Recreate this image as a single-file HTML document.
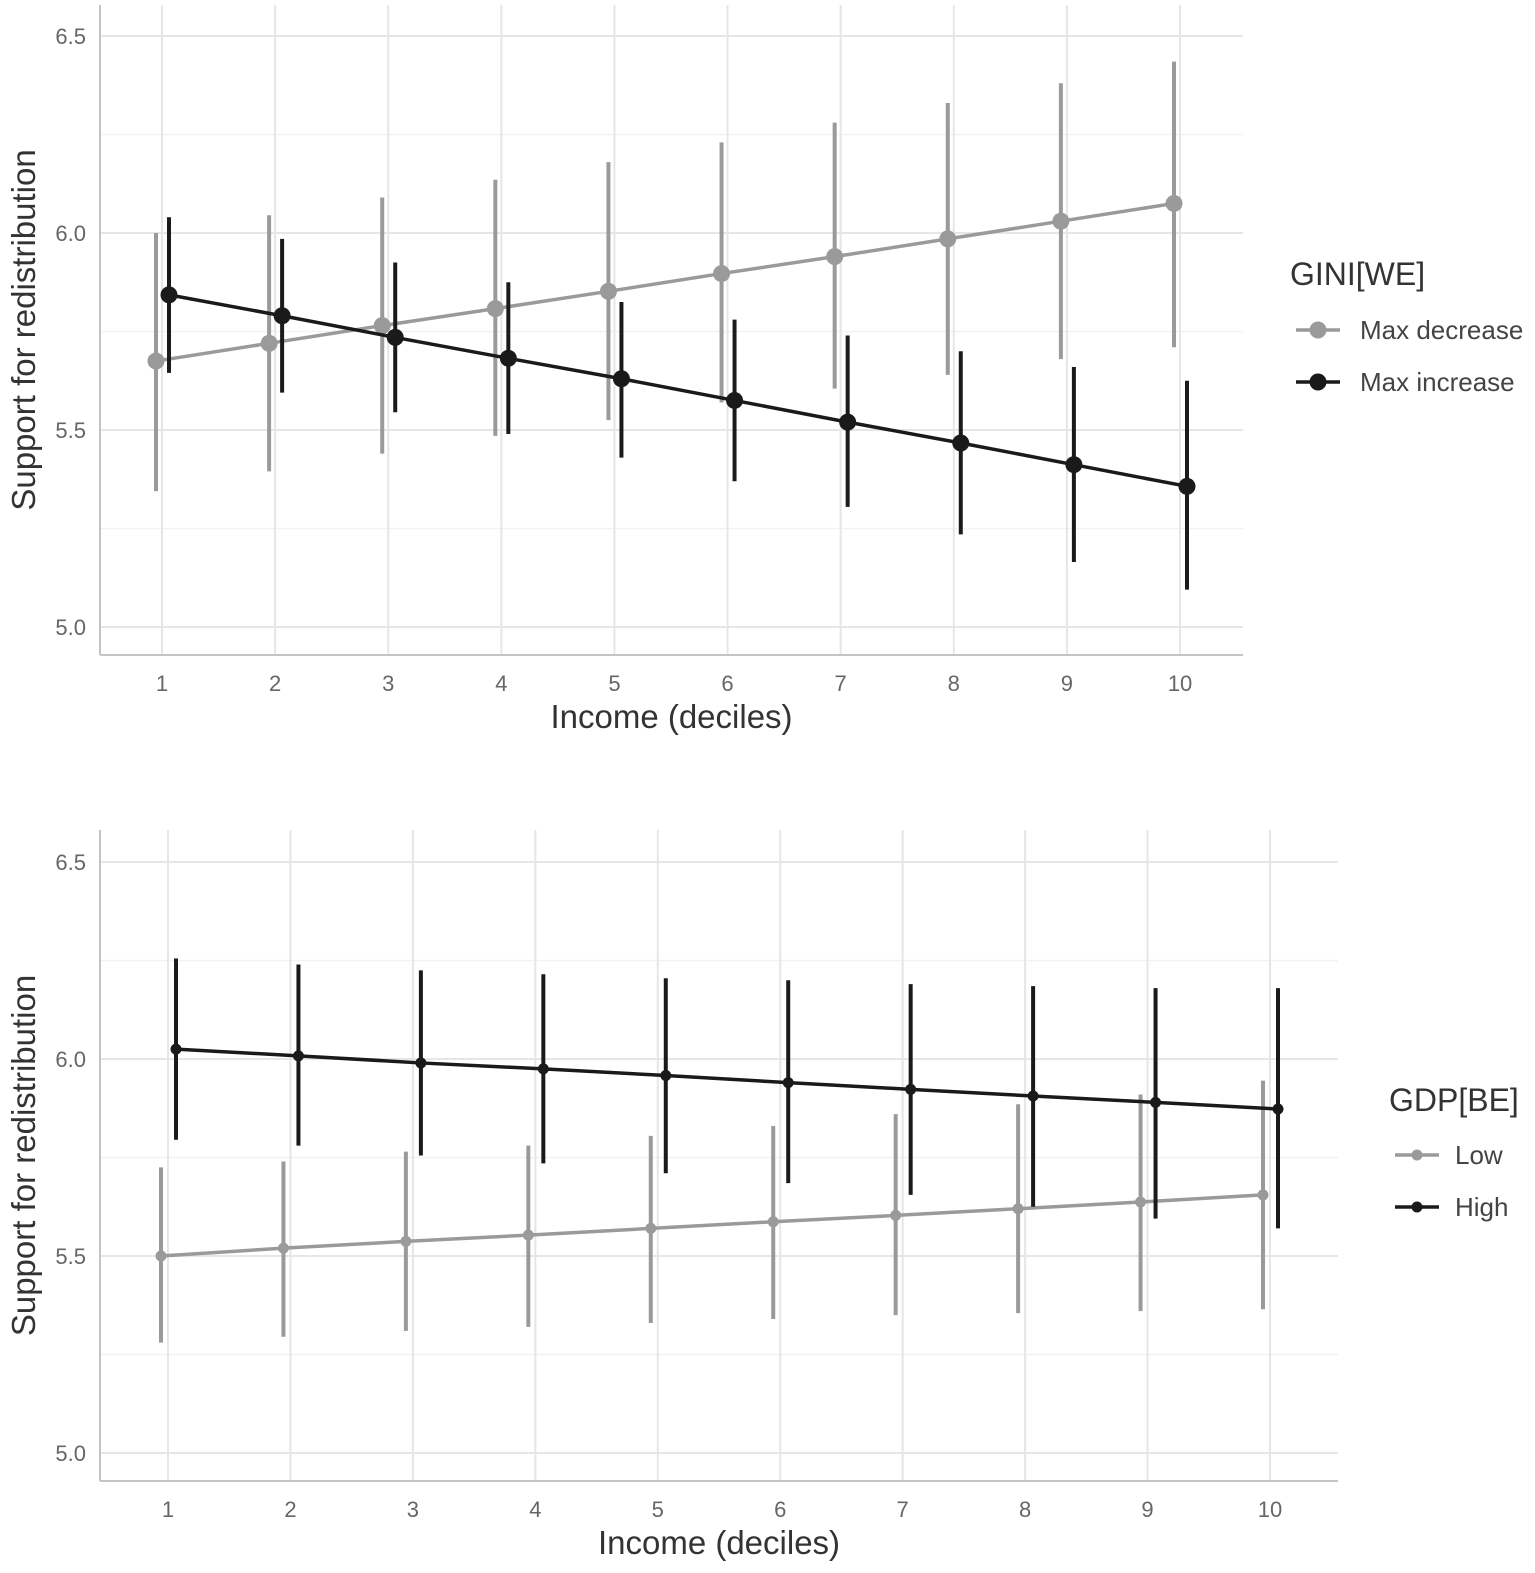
<!DOCTYPE html>
<html><head><meta charset="utf-8"><style>
body{margin:0;background:#fff}
svg{display:block;font-family:"Liberation Sans",sans-serif}
</style></head><body>
<svg id="c" width="1535" height="1573"></svg>
<script>
const deciles=[1,2,3,4,5,6,7,8,9,10];
const yTicks=[5.0,5.5,6.0,6.5];
const yTickLabels=["5.0","5.5","6.0","6.5"];
const topDecMean=[5.675,5.72,5.765,5.808,5.852,5.897,5.94,5.985,6.03,6.075];
const topDecLo=[5.345,5.395,5.44,5.485,5.525,5.57,5.605,5.64,5.68,5.71];
const topDecHi=[6.0,6.045,6.09,6.135,6.18,6.23,6.28,6.33,6.38,6.435];
const topIncMean=[5.843,5.79,5.735,5.682,5.63,5.575,5.52,5.467,5.412,5.357];
const topIncLo=[5.645,5.595,5.545,5.49,5.43,5.37,5.305,5.235,5.165,5.095];
const topIncHi=[6.04,5.985,5.925,5.875,5.825,5.78,5.74,5.7,5.66,5.625];
const botHighMean=[6.025,6.008,5.99,5.975,5.958,5.94,5.923,5.906,5.89,5.873];
const botHighLo=[5.795,5.78,5.755,5.735,5.71,5.685,5.655,5.625,5.595,5.57];
const botHighHi=[6.255,6.24,6.225,6.215,6.205,6.2,6.19,6.185,6.18,6.18];
const botLowMean=[5.5,5.52,5.537,5.553,5.57,5.587,5.603,5.62,5.637,5.655];
const botLowLo=[5.28,5.295,5.31,5.32,5.33,5.34,5.35,5.355,5.36,5.365];
const botLowHi=[5.725,5.74,5.765,5.78,5.805,5.83,5.86,5.885,5.91,5.945];

const svg=document.getElementById('c');
const NS='http://www.w3.org/2000/svg';
function mk(tag,attrs,parent){const e=document.createElementNS(NS,tag);for(const k in attrs)e.setAttribute(k,attrs[k]);(parent||svg).appendChild(e);return e;}
const GRAY='#9a9a9a',BLACK='#1a1a1a';

function panel(o){
  const g=mk('g',{});
  
  
  const xs=v=>o.x1+(v-1)*(o.x10-o.x1)/9;
  const ys=v=>o.y6-(v-6)*(o.y5-o.y6)/0.5;
  [5.25,5.75,6.25].forEach(v=>mk('line',{x1:o.left,x2:o.right,y1:ys(v),y2:ys(v),stroke:'#f2f2f2','stroke-width':1.5},g));
  yTicks.forEach(v=>mk('line',{x1:o.left,x2:o.right,y1:ys(v),y2:ys(v),stroke:'#e6e6e6','stroke-width':2},g));
  deciles.forEach(d=>mk('line',{x1:xs(d),x2:xs(d),y1:o.top,y2:o.bottom,stroke:'#e6e6e6','stroke-width':2},g));
  mk('line',{x1:o.left,x2:o.left,y1:o.top,y2:o.bottom,stroke:'#c4c4c4','stroke-width':2},g);
  mk('line',{x1:o.left,x2:o.right,y1:o.bottom,y2:o.bottom,stroke:'#c4c4c4','stroke-width':2},g);
  yTicks.forEach((v,i)=>{const t=mk('text',{x:86,y:ys(v)+8,'text-anchor':'end','font-size':22,fill:'#666'},g);t.textContent=yTickLabels[i];
    });
  deciles.forEach(d=>{const t=mk('text',{x:xs(d),y:o.bottom+36,'text-anchor':'middle','font-size':22,fill:'#666'},g);t.textContent=d;
    });
  const xt=mk('text',{x:(o.left+o.right)/2,y:o.bottom+73,'text-anchor':'middle','font-size':33,fill:'#333'},g);xt.textContent='Income (deciles)';
  
  const yc=(o.top+o.bottom)/2;
  const yt=mk('text',{x:35,y:yc,'text-anchor':'middle','font-size':33,fill:'#333',transform:`rotate(-90 35 ${yc})`},g);yt.textContent='Support for redistribution';
  
  o.series.forEach(s=>{
    const sg=mk('g',{},g);
    
    
    mk('polyline',{points:deciles.map((d,i)=>(xs(d)+s.dx)+','+ys(s.mean[i])).join(' '),fill:'none',stroke:s.color,'stroke-width':3.5},sg);
    deciles.forEach((d,i)=>{
      const eb=mk('line',{x1:xs(d)+s.dx,x2:xs(d)+s.dx,y1:ys(s.lo[i]),y2:ys(s.hi[i]),stroke:s.color,'stroke-width':4},sg);
      
      const p=mk('circle',{cx:xs(d)+s.dx,cy:ys(s.mean[i]),r:o.r,fill:s.color},sg);
      
    });
  });
  const lg=mk('g',{},g);
  
  const lt=mk('text',{x:o.lx,y:o.ly,'font-size':32,fill:'#333'},lg);lt.textContent=o.ltitle;
  o.series.forEach((s,i)=>{
    const yy=o.ly+o.gap+i*52;
    mk('line',{x1:o.lx+6,x2:o.lx+50,y1:yy,y2:yy,stroke:s.color,'stroke-width':3.5},lg);
    mk('circle',{cx:o.lx+28,cy:yy,r:o.r,fill:s.color},lg);
    const t=mk('text',{x:o.lx+o.tx,y:yy+9,'font-size':26,fill:'#444'},lg);t.textContent=s.label;
    
  });
}
panel({name:'top-panel',left:100,right:1243,top:5,bottom:655,x1:162,x10:1180,y6:233,y5:430,r:8.5,
  lx:1290,ly:285,gap:45,tx:70,ltitle:'GINI[WE]',
  series:[{key:'max-decrease',label:'Max decrease',color:GRAY,dx:-6,mean:topDecMean,lo:topDecLo,hi:topDecHi},
          {key:'max-increase',label:'Max increase',color:BLACK,dx:7,mean:topIncMean,lo:topIncLo,hi:topIncHi}]});
panel({name:'bottom-panel',left:100,right:1338,top:830,bottom:1481,x1:168,x10:1270,y6:1059,y5:1256,r:5.5,
  lx:1389,ly:1111,gap:44,tx:66,ltitle:'GDP[BE]',
  series:[{key:'low',label:'Low',color:GRAY,dx:-7,mean:botLowMean,lo:botLowLo,hi:botLowHi},
          {key:'high',label:'High',color:BLACK,dx:8,mean:botHighMean,lo:botHighLo,hi:botHighHi}]});
</script>
</body></html>
